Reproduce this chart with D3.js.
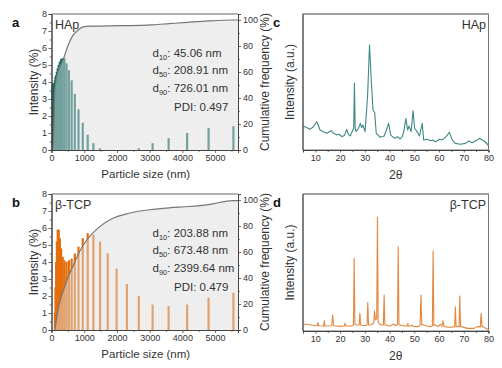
<!DOCTYPE html>
<html><head><meta charset="utf-8">
<script src="https://cdn.jsdelivr.net/npm/d3@7/dist/d3.min.js"></script>
<style>
body{margin:0;background:#fff}
svg{display:block;font-family:Arial,"Liberation Sans",sans-serif}
</style>
</head><body>
<svg id="chart" width="502" height="368"></svg>
<script>
// ---------- DATA ----------
const sizeTicks = [0, 1000, 2000, 3000, 4000, 5000];
const intensityTicks = [0, 1, 2, 3, 4, 5, 6, 7, 8];
const cumTicks = [0, 20, 40, 60, 80, 100];
const thetaTicks = [10, 20, 30, 40, 50, 60, 70, 80];

// DLS intensity distribution, HAp
const hapSizes = [28.21, 32.67, 37.84, 43.82, 50.75, 58.77, 68.06, 78.82, 91.28, 105.7, 122.4, 141.8, 164.2, 190.1, 220.2, 255, 295.3, 342, 396.1, 458.7, 531.2, 615.1, 712.4, 825, 955.4, 1106, 1281, 1484, 2669, 3091, 3580, 4145, 4801, 5560];
const hapIntensity = [3.7, 3.8, 3.9, 3.9, 3.9, 3.85, 3.8, 3.85, 3.95, 4.1, 4.3, 4.4, 4.6, 4.8, 5.0, 5.2, 5.35, 5.4, 5.4, 5.1, 4.7, 4.1, 3.3, 2.4, 1.6, 0.9, 0.4, 0.1, 0.1, 0.4, 0.7, 1.0, 1.3, 1.4];
const hapCumSize = [25, 60, 80, 100, 150, 220, 350, 500, 650, 800, 950, 1200, 2000, 2700, 3100, 3600, 4150, 4800, 5560];
const hapCumPct = [0, 8, 25, 45, 55, 62, 69, 80, 88, 92, 94.5, 95.3, 95.6, 95.8, 96.3, 97.2, 98.2, 99.3, 100];

// DLS intensity distribution, beta-TCP
const tcpSizes = [106, 122, 142, 164, 190, 220, 255, 295, 342, 396, 459, 531, 615, 712, 825, 955, 1106, 1281, 1484, 1718, 1990, 2305, 2669, 3091, 3580, 4145, 4801, 5560];
const tcpIntensity = [1.0, 2.5, 4.0, 5.2, 5.9, 5.9, 5.4, 4.8, 4.3, 4.1, 4.0, 4.1, 4.2, 4.5, 4.9, 5.4, 5.7, 5.6, 5.2, 4.5, 3.6, 2.7, 2.0, 1.5, 1.4, 1.5, 1.9, 2.2];
const tcpCumSize = [100, 150, 204, 280, 400, 530, 673, 850, 1100, 1400, 1800, 2400, 3000, 3600, 4200, 4800, 5560];
const tcpCumPct = [0, 8, 16, 24, 33, 42, 50, 60, 70, 78, 85, 90, 92.5, 94, 95, 96.5, 99.5];

// XRD patterns [2theta, relative intensity]
const hapXrd = [[5,17.3],[5.8,17.1],[7.8,15.2],[9.1,16.9],[10.6,20.8],[11.9,14.7],[13.2,13.5],[14.6,12.3],[16.4,14.2],[17.2,12.5],[18.7,11],[19.6,11.6],[20.7,9.8],[21.8,10.8],[22.7,15.2],[23.3,11.5],[24.1,10.3],[25.1,14.5],[25.5,16],[25.8,49],[26.1,16],[26.5,13.5],[27.4,16],[28.2,19.6],[28.7,16.5],[29.2,18.4],[30.1,13.5],[31.1,39.2],[31.9,77.2],[32.6,51.5],[33.3,29.4],[34.0,27.4],[34.6,12.3],[35.4,11],[36.2,9.3],[37.8,10.3],[38.6,14],[39.6,19.6],[40.5,11],[41.4,9.5],[42.3,8.6],[43.1,9.8],[44.3,8.1],[45.1,9.6],[45.7,13.2],[46.6,23.3],[47.3,14.7],[47.9,17.6],[48.7,13.5],[49.5,28.9],[50.1,16],[51.1,13.5],[52.1,10.3],[53.2,19.6],[53.8,7.4],[55.1,7.9],[56.5,6.8],[57.5,7.3],[58.5,6.1],[60.3,7.9],[61.2,7.4],[62.6,9.3],[64.2,13],[65.3,7.4],[66.6,4.9],[68.6,4.2],[70.7,4.9],[72.0,6.6],[73.4,5.4],[75.4,7.4],[76.5,8.6],[77.4,7.4],[78.1,6.8],[79.5,4.4],[80,2.9]];
const tcpXrd = [[5,5.1],[7.8,4.6],[9.9,3.8],[10.7,3.8],[11.0,6.1],[11.3,3.8],[13.3,3.6],[13.6,7.5],[13.9,3.6],[16.6,3.8],[17.0,11.7],[17.4,3.8],[20.0,3.4],[21.7,3.6],[22.0,5.8],[22.3,3.6],[24.7,3.6],[25.4,4.5],[25.7,53],[26.0,5],[26.8,4.4],[27.7,4.4],[28.0,12.9],[28.3,4.4],[28.8,4.2],[29.7,3.8],[30.9,4.4],[31.2,20.7],[31.5,4.4],[32.2,4.4],[33.6,5.5],[33.9,14.8],[34.3,8],[34.8,9],[35.1,83],[35.4,6.8],[35.8,5],[36.9,4.4],[37.5,4.5],[37.8,26.3],[38.1,4.5],[38.5,4.4],[40.3,3.6],[41.6,5.1],[42.5,3.8],[43.2,4.5],[43.5,61.5],[43.8,4.5],[44.2,4.4],[45.7,3.6],[47.1,3.6],[47.4,5.6],[47.7,3.6],[48.4,3.6],[49.1,4.4],[49.5,3.4],[51.1,3.2],[52.3,3.6],[52.7,26.3],[53.0,4.5],[53.4,4.5],[55.1,3.6],[56.5,3.2],[57.3,3.6],[57.6,58.6],[57.9,4],[58.2,4.4],[59.8,3.2],[60.5,5.1],[61.2,3.4],[61.6,7.5],[62.0,3.4],[62.3,3.2],[63.9,2.7],[66.3,3.0],[66.6,17.7],[66.9,3.2],[67.3,3.2],[68.1,3.2],[68.4,25.5],[68.7,3.2],[69.0,3.2],[71.4,1.9],[74.0,1.9],[75.4,3.2],[76.7,3.0],[77.0,12.9],[77.4,3.2],[77.8,3.2],[80,0.7]];

// ---------- DRAWING ----------
const svg = d3.select("#chart");
const TXT = "#333";
const AX = "#444";

function styleAxis(g) {
  g.selectAll(".domain").attr("stroke", AX).attr("stroke-width", 1);
  g.selectAll(".tick line").attr("stroke", AX).attr("stroke-width", 0.8);
  g.selectAll(".tick text").attr("fill", TXT).attr("font-size", 9).attr("font-family", "Arial, Liberation Sans, sans-serif");
}

function dlsPanel(o) {
  const L = 51.5, R = 238, T = o.top, B = o.bottom;
  const x = d3.scaleLinear().domain([0, 5700]).range([L, R]);
  const y = d3.scaleLinear().domain([0, 8]).range([B, T]);
  const yr = d3.scaleLinear().domain([0, 104.6]).range([B, T]);
  const g = svg.append("g");
  const cid = "clip" + o.letter;
  g.append("clipPath").attr("id", cid).append("rect").attr("x", L).attr("y", T).attr("width", R - L).attr("height", B - T);
  const plot = g.append("g").attr("clip-path", `url(#${cid})`);

  plot.selectAll("rect.bar").data(o.sizes.map((s, i) => [s, o.ints[i]])).join("rect")
    .attr("class", "bar")
    .attr("x", d => x(d[0]) - 1.1).attr("width", 2.2)
    .attr("y", d => y(d[1])).attr("height", d => B - y(d[1]))
    .attr("fill", o.color);

  const cum = o.cumS.map((s, i) => [s, o.cumP[i]]);
  cum.push([5700, o.cumP[o.cumP.length - 1]]);
  const area = d3.area().x(d => x(d[0])).y0(B).y1(d => yr(d[1])).curve(d3.curveMonotoneX);
  plot.append("path").datum(cum).attr("d", area).attr("fill", "#dcdcdc").attr("fill-opacity", 0.48);
  const line = d3.line().x(d => x(d[0])).y(d => yr(d[1])).curve(d3.curveMonotoneX);
  plot.append("path").datum(cum).attr("d", line).attr("fill", "none").attr("stroke", "#767676").attr("stroke-width", 1.2);

  // frame top
  g.append("line").attr("x1", L).attr("x2", R).attr("y1", T).attr("y2", T).attr("stroke", "#9a9a9a").attr("stroke-width", 1.6);

  // axes
  const minorB = d3.range(500, 5700, 1000);
  g.append("g").attr("transform", `translate(0,${B})`).call(d3.axisBottom(x).tickValues(minorB).tickSize(1.8).tickFormat("")).call(styleAxis);
  g.append("g").attr("transform", `translate(0,${B})`).call(d3.axisBottom(x).tickValues(sizeTicks).tickSize(3).tickPadding(1.5).tickFormat(d3.format("d"))).call(styleAxis);
  g.append("g").attr("transform", `translate(${L},0)`).call(d3.axisLeft(y).tickValues(d3.range(0.5, 8, 1)).tickSize(1.8).tickFormat("")).call(styleAxis);
  g.append("g").attr("transform", `translate(${L},0)`).call(d3.axisLeft(y).tickValues(intensityTicks).tickSize(3).tickPadding(1.5).tickFormat(d3.format("d"))).call(styleAxis);
  g.append("g").attr("transform", `translate(${R},0)`).call(d3.axisRight(yr).tickValues([10, 30, 50, 70, 90]).tickSize(1.8).tickFormat("")).call(styleAxis);
  g.append("g").attr("transform", `translate(${R},0)`).call(d3.axisRight(yr).tickValues(cumTicks).tickSize(3).tickPadding(2).tickFormat(d3.format("d"))).call(styleAxis);

  // titles
  g.append("text").attr("x", (L + R) / 2 + 1).attr("y", B + 28).attr("text-anchor", "middle").attr("font-size", 11.5).attr("fill", TXT).text("Particle size (nm)");
  g.append("text").attr("transform", `translate(37.5,${(T + B) / 2}) rotate(-90)`).attr("text-anchor", "middle").attr("font-size", 12).attr("fill", TXT).text("Intensity (%)");
  g.append("text").attr("transform", `translate(268.5,${(T + B) / 2}) rotate(-90)`).attr("text-anchor", "middle").attr("font-size", 12).attr("fill", TXT).text("Cumulative frequency (%)");
  g.append("text").attr("x", 12).attr("y", T + 13).attr("font-size", 13).attr("font-weight", "bold").attr("fill", "#111").text(o.letter);
  g.append("text").attr("x", 55).attr("y", T + 14.5).attr("font-size", 12.5).attr("fill", TXT).text(o.name);

  // d-values
  const subs = ["10", "50", "90"];
  o.dvals.forEach((v, i) => {
    const t = g.append("text").attr("x", 152.5).attr("y", T + 42.6 + i * 17.7).attr("font-size", 11.5).attr("fill", TXT);
    t.append("tspan").text("d");
    t.append("tspan").attr("font-size", 7.5).attr("dy", 3).text(subs[i]);
    t.append("tspan").attr("dy", -3).text(": " + v + " nm");
  });
  g.append("text").attr("x", 174).attr("y", T + 96.8).attr("font-size", 11.5).attr("fill", TXT).text("PDI: " + o.pdi);
}

function xrdPanel(o) {
  const L = 303, R = 488.5, T = o.top, B = o.bottom;
  const x = d3.scaleLinear().domain([5, 80]).range([L, R]);
  const y = d3.scaleLinear().domain([0, 100]).range([B, T]);
  const g = svg.append("g");
  g.append("rect").attr("x", L).attr("y", T).attr("width", R - L).attr("height", B - T).attr("fill", "none").attr("stroke", "#777").attr("stroke-width", 1);
  g.append("line").attr("x1", L).attr("x2", R).attr("y1", T).attr("y2", T).attr("stroke", "#9a9a9a").attr("stroke-width", 1.6);
  const line = d3.line().x(d => x(d[0])).y(d => y(d[1]));
  g.append("path").datum(o.data).attr("d", line).attr("fill", "none").attr("stroke", o.color).attr("stroke-width", 1.1).attr("stroke-linejoin", "round");
  g.append("g").attr("transform", `translate(0,${B})`).call(d3.axisBottom(x).tickValues(d3.range(5, 80, 10)).tickSize(2).tickFormat("")).call(styleAxis);
  g.append("g").attr("transform", `translate(0,${B})`).call(d3.axisBottom(x).tickValues(thetaTicks).tickSize(2.5).tickPadding(2.5).tickFormat(d3.format("d"))).call(styleAxis);
  g.append("line").attr("x1", L).attr("x2", L).attr("y1", T).attr("y2", B).attr("stroke", AX);
  g.append("text").attr("x", (L + R) / 2).attr("y", B + 28.5).attr("text-anchor", "middle").attr("font-size", 12).attr("fill", TXT).text("2θ");
  g.append("text").attr("transform", `translate(293.5,${(T + B) / 2}) rotate(-90)`).attr("text-anchor", "middle").attr("font-size", 12).attr("fill", TXT).text("Intensity (a.u.)");
  g.append("text").attr("x", 273).attr("y", T + 13).attr("font-size", 13).attr("font-weight", "bold").attr("fill", "#111").text(o.letter);
  g.append("text").attr("x", 486).attr("y", T + 14.5).attr("text-anchor", "end").attr("font-size", 12.5).attr("fill", TXT).text(o.name);
}

dlsPanel({ top: 14, bottom: 150, sizes: hapSizes, ints: hapIntensity, cumS: hapCumSize, cumP: hapCumPct, color: "#146c68", letter: "a", name: "HAp", dvals: ["45.06", "208.91", "726.01"], pdi: "0.497" });
dlsPanel({ top: 194, bottom: 330, sizes: tcpSizes, ints: tcpIntensity, cumS: tcpCumSize, cumP: tcpCumPct, color: "#e56e0c", letter: "b", name: "β-TCP", dvals: ["203.88", "673.48", "2399.64"], pdi: "0.479" });
xrdPanel({ top: 14, bottom: 150, data: hapXrd, color: "#3e8985", letter: "c", name: "HAp" });
xrdPanel({ top: 194, bottom: 331, data: tcpXrd, color: "#e38840", letter: "d", name: "β-TCP" });
</script>
</body></html>
